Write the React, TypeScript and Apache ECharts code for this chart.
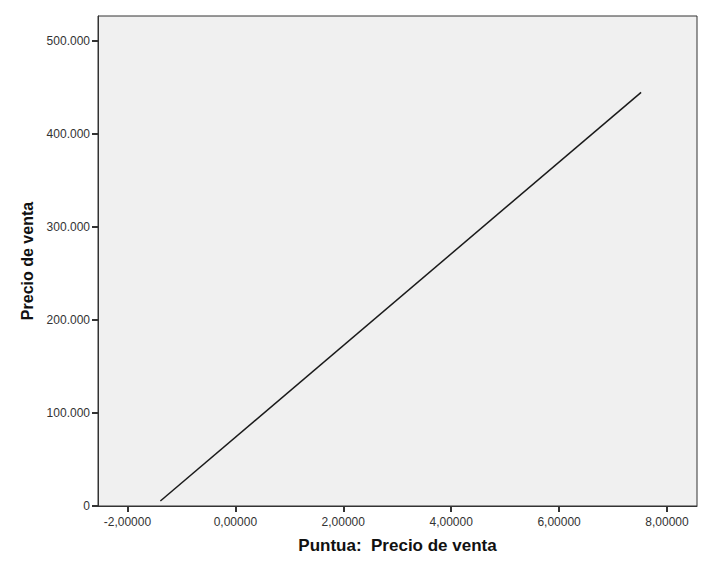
import React, { useEffect, useRef } from "react";
import * as echarts from "echarts";

const xTicks = [-2, 0, 2, 4, 6, 8];
const yTicks = [0, 100000, 200000, 300000, 400000, 500000];
const lineX = [-1.39, 7.52];
const lineY = [5400, 444800];
const xTitle = "Puntua:  Precio de venta";
const yTitle = "Precio de venta";

const fmtX = (v: number) => v.toFixed(5).replace(".", ",");
const fmtY = (v: number) =>
  v === 0 ? "0" : Math.round(v).toString().replace(/\B(?=(\d{3})+(?!\d))/g, ".");

export default function App() {
  const ref = useRef<HTMLDivElement>(null);
  useEffect(() => {
    if (!ref.current) return;
    const chart = echarts.init(ref.current, null, { renderer: "svg" });
    const font = "Liberation Sans, Arial, sans-serif";
    chart.setOption({
      animation: false,
      backgroundColor: "#ffffff",
      grid: {
        left: 98,
        top: 16,
        right: 16,
        bottom: 65,
        show: true,
        backgroundColor: "#f0f0f0",
        borderColor: "#333333",
        borderWidth: 1,
      },
      xAxis: {
        type: "value",
        min: -2.546,
        max: 8.556,
        name: xTitle,
        nameLocation: "middle",
        nameGap: 31,
        nameTextStyle: { fontFamily: font, fontSize: 17, fontWeight: "bold", color: "#111" },
        axisLine: { show: true, onZero: false, lineStyle: { color: "#333", width: 1 } },
        axisTick: { show: true, customValues: xTicks, length: 6, lineStyle: { color: "#333", width: 2 } },
        axisLabel: {
          customValues: xTicks,
          formatter: (v: number) => fmtX(v),
          fontFamily: font,
          fontSize: 12,
          color: "#333",
          margin: 10,
        },
        splitLine: { show: false },
      },
      yAxis: {
        type: "value",
        min: 0,
        max: 527000,
        name: yTitle,
        nameLocation: "middle",
        nameGap: 57,
        nameTextStyle: { fontFamily: font, fontSize: 16, fontWeight: "bold", color: "#111" },
        axisLine: { show: true, onZero: false, lineStyle: { color: "#333", width: 1 } },
        axisTick: { show: true, customValues: yTicks, length: 6, lineStyle: { color: "#333", width: 2 } },
        axisLabel: {
          customValues: yTicks,
          formatter: (v: number) => fmtY(v),
          fontFamily: font,
          fontSize: 12,
          color: "#333",
          margin: 8,
        },
        splitLine: { show: false },
      },
      series: [
        {
          type: "line",
          data: lineX.map((x, i) => [x, lineY[i]]),
          showSymbol: false,
          lineStyle: { color: "#1a1a1a", width: 1.5 },
        },
      ],
    });
    return () => chart.dispose();
  }, []);
  return (
    <div
      ref={ref}
      style={{ position: "fixed", left: 0, top: 0, width: 713, height: 571 }}
    />
  );
}
